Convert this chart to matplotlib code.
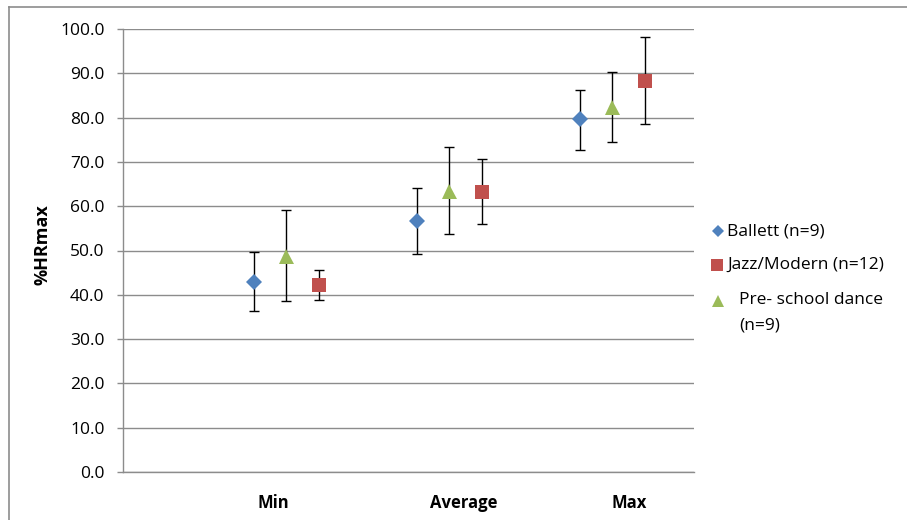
import matplotlib
matplotlib.use("Agg")
import matplotlib.pyplot as plt
from matplotlib.lines import Line2D

plt.rcParams['font.family'] = ['Open Sans', 'DejaVu Sans']

categories = ["Min", "Average", "Max"]
series_names = ["Ballett (n=9)", "Jazz/Modern (n=12)", "Pre- school dance", "(n=9)"]

ballett_mean = [43.0, 56.7, 79.6]
ballett_low = [36.4, 49.3, 72.7]
ballett_high = [49.6, 64.1, 86.2]

jazz_mean = [42.3, 63.3, 88.3]
jazz_low = [38.8, 55.9, 78.6]
jazz_high = [45.7, 70.7, 98.2]

pre_mean = [48.8, 63.4, 82.5]
pre_low = [38.6, 53.7, 74.6]
pre_high = [59.1, 73.4, 90.4]

yticks = [0, 10, 20, 30, 40, 50, 60, 70, 80, 90, 100]

W, H = 907, 520
fig = plt.figure(figsize=(W / 100, H / 100), dpi=100)
ax = fig.add_axes([123 / W, 1 - 472 / H, (694 - 123) / W, (472 - 29) / H])

blue = "#4F81BD"
red = "#C0504D"
green = "#9BBB59"
grid = "#8C8C8C"

specs = [
    (ballett_mean, ballett_low, ballett_high, -0.2, "D", 8.0, blue),
    (pre_mean, pre_low, pre_high, 0.0, "^", 10.8, green),
    (jazz_mean, jazz_low, jazz_high, 0.2, "s", 10.6, red),
]
for mean, low, high, off, mk, ms, col in specs:
    xs = [i + 1 + off for i in range(len(categories))]
    yerr = [[m - l for m, l in zip(mean, low)], [h - m for m, h in zip(mean, high)]]
    ax.errorbar(xs, mean, yerr=yerr, fmt="none", ecolor="black", elinewidth=1.0,
                capsize=3.6, capthick=1.0, zorder=3)
    ax.plot(xs, mean, linestyle="none", marker=mk, markersize=ms, color=col,
            markeredgewidth=0, zorder=4)

ax.set_xlim(0, 3.5)
ax.set_ylim(0, 100)
ax.set_yticks(yticks)
ax.set_yticklabels([f"{v:.1f}" for v in yticks])
ax.yaxis.grid(True, color=grid, linewidth=1.0)
ax.set_axisbelow(True)
for s in ["top", "right"]:
    ax.spines[s].set_visible(False)
ax.spines["left"].set_color(grid)
ax.spines["bottom"].set_color(grid)
ax.spines["left"].set_linewidth(1.0)
ax.spines["bottom"].set_linewidth(1.0)
ax.tick_params(axis="y", length=4.3, color=grid, width=1.0, labelsize=12.5, pad=9,
               labelcolor="black")

label_pos = [0.92, 2.09, 3.10]
ax.set_xticks(label_pos)
ax.set_xticklabels(categories, fontsize=12, fontweight="bold")
ax.tick_params(axis="x", length=0, pad=16)

fig.text(42 / W, 1 - 245 / H, "%HRmax", rotation=90, ha="center", va="center",
         fontsize=13, fontweight="bold")

# legend (manual)
leg_markers = [
    ("D", 6.5, blue, 718, 231),
    ("s", 9.0, red, 716.5, 265),
    ("^", 9.0, green, 717.5, 301),
]
for mk, ms, col, mx, my in leg_markers:
    fig.add_artist(Line2D([mx / W], [1 - my / H], marker=mk, markersize=ms, color=col,
                          markeredgewidth=0, linestyle="none"))
leg_texts = [(727, 231), (727, 265), (739, 300), (739, 325)]
for (tx, ty), txt in zip(leg_texts, series_names):
    fig.text(tx / W, 1 - ty / H, txt, ha="left", va="center", fontsize=12.5)

# outer chart border (top and left visible)
fig.add_artist(Line2D([9 / W, 1.0], [1 - 7 / H, 1 - 7 / H], color="#8C8C8C", linewidth=1.2))
fig.add_artist(Line2D([9 / W, 9 / W], [0.0, 1 - 7 / H], color="#8C8C8C", linewidth=1.2))

fig.savefig("out.png", dpi=100)
